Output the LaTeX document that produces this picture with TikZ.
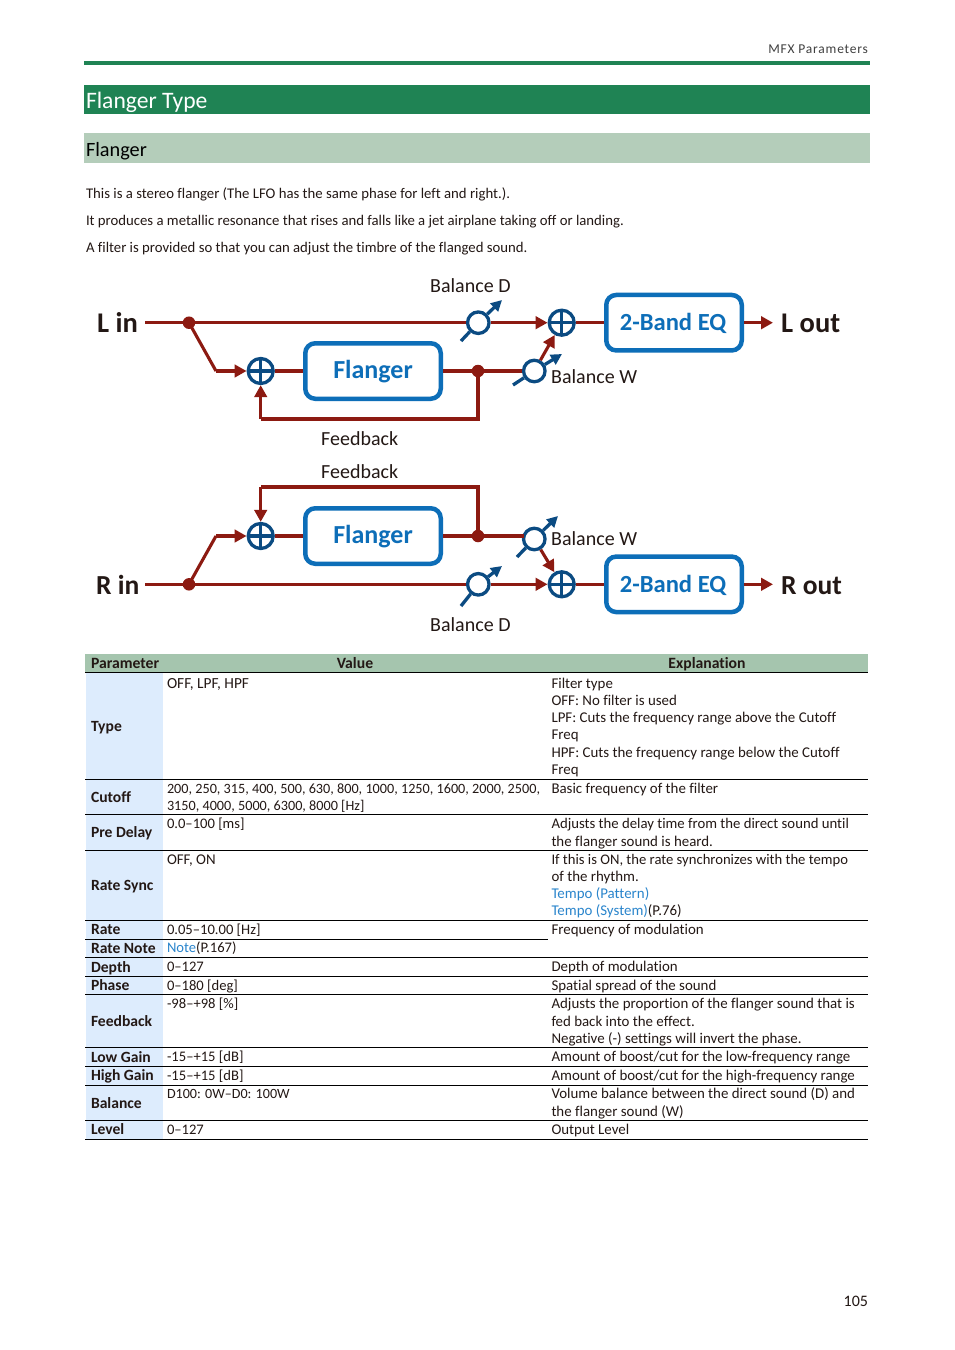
\documentclass[tikz,border=0pt]{standalone}
\usepackage{fontspec}
\setmainfont{Carlito}[Ligatures=CommonOff]
\usetikzlibrary{arrows.meta}
\definecolor{grn}{HTML}{1F8354}
\definecolor{lgrn}{HTML}{B4CDBA}
\definecolor{hdr}{HTML}{A5C5AE}
\definecolor{lblue}{HTML}{DDECFD}
\definecolor{red1}{HTML}{8C1A11}
\definecolor{blu1}{HTML}{0B4B82}
\definecolor{blu2}{HTML}{0D6EB8}
\definecolor{lnk}{HTML}{2A85CC}
\definecolor{ink}{HTML}{231815}
\newcommand{\fs}[1]{\fontsize{#1}{#1}\selectfont}
\tikzset{
  x=1pt,y=-1pt,
  txt/.style={anchor=base west,inner sep=0pt,outer sep=0pt,font=\fs{14.75},text=ink},
  txtr/.style={txt,anchor=base east},
  cell/.style={txt,font=\fs{14.9}},
  num/.style={txt,font=\fs{14.6}},
  pname/.style={txt,font=\fs{15.6}\bfseries},
  hd/.style={inner sep=0pt,anchor=base,font=\fs{15.7}\bfseries,text=ink},
  rule/.style={black,line width=1pt},
  wire/.style={red1,line width=3.1pt},
  arrw/.style={wire,-{Triangle[length=12pt,width=12.5pt]}},
  knobarr/.style={blu1,line width=3.3pt,-{Triangle[length=11pt,width=11pt]}},
  knobtail/.style={blu1,line width=3.3pt},
  blockbox/.style={draw=blu2,line width=4.5pt,fill=white,rounded corners=10pt,minimum width=135.5pt,minimum height=55.5pt,inner sep=0pt,text=blu2,font=\fs{26}\bfseries},
  sumnode/.style={circle,draw=blu1,line width=3.3pt,fill=white,minimum size=25pt,inner sep=0pt,
    path picture={\draw[blu1,line width=3.2pt] (path picture bounding box.north)--(path picture bounding box.south) (path picture bounding box.west)--(path picture bounding box.east);}},
  knob/.style={circle,draw=blu1,line width=3.3pt,fill=white,minimum size=21.5pt,inner sep=0pt},
  dotn/.style={circle,fill=red1,minimum size=12.5pt,inner sep=0pt},
  io/.style={inner sep=0pt,anchor=base west,font=\fs{28.5}\bfseries,text=ink},
  lab/.style={inner sep=0pt,anchor=base west,font=\fs{20},text=ink},
}
\begin{document}
\begin{tikzpicture}
\useasboundingbox (0,0) rectangle (954,1350);
\fill[white] (0,0) rectangle (954,1350);
% page header
\node[txtr,font=\fs{13.5},text=black!75] (mfx) at (868,53) {\addfontfeature{LetterSpace=6}MFX Parameters};
\fill[grn] (84,61) rectangle (870,65);
\fill[grn] (84,85) rectangle (870,114);
\fill[lgrn] (84,133) rectangle (870,163);
\node[txt,font=\fs{23.6},text=white] (h1) at (86,108) {Flanger Type};
\node[txt,font=\fs{20.3},text=black] (h2) at (86,156) {Flanger};
\node[txt] (p1) at (86,198) {This is a stereo flanger (The LFO has the same phase for left and right.).};
\node[txt] (p2) at (86,225) {It produces a metallic resonance that rises and falls like a jet airplane taking off or landing.};
\node[txt] (p3) at (86,252) {A filter is provided so that you can adjust the timbre of the flanged sound.};
% ---- L channel nodes
\node[blockbox] (lfl) at (373,371) {\raisebox{-7.5pt}[0pt][0pt]{Flanger}};
\node[blockbox] (leq) at (674,322.7) {\hspace{-2pt}\raisebox{-8pt}[0pt][0pt]{\fs{24.6}2-Band EQ}};
\node[sumnode] (ls1) at (260.7,371) {};
\node[sumnode] (ls2) at (561.7,322.7) {};
\node[knob] (lkd) at (478.3,322.7) {};
\node[knob] (lkw) at (534.3,371) {};
\node[dotn] (ld1) at (189,322.7) {};
\node[dotn] (ld2) at (478,371) {};
\coordinate (lin) at (145,322.7);
\coordinate (lout) at (773,322.7);
\coordinate (lbend) at (216,371);
\coordinate (lf1) at (478,419);
\coordinate (lf2) at (260.7,419);
\coordinate (ldt) at (461,341);
\coordinate (ldh) at (502,300);
\coordinate (lwt) at (513,385);
\coordinate (lwh) at (562,354);
\draw[wire] (lin) -- (ld1) -- (lkd);
\draw[arrw] (lkd) -- (ls2);
\draw[wire] (ls2) -- (leq);
\draw[arrw] (leq) -- (lout);
\draw[wire] (ld1.center) -- (lbend);
\draw[arrw] (lbend) -- (ls1);
\draw[wire] (ls1) -- (lfl);
\draw[wire] (lfl) -- (ld2) -- (lkw);
\draw[wire,line join=miter] (ld2.center) -- (lf1) -- (lf2);
\draw[arrw] (lf2) -- (ls1);
\draw[arrw] (lkw) -- (ls2);
\draw[knobtail] (ldt) -- (lkd);
\draw[knobarr] (lkd) -- (ldh);
\draw[knobtail] (lwt) -- (lkw);
\draw[knobarr] (lkw) -- (lwh);
% ---- R channel nodes
\node[blockbox] (rfl) at (373,536) {\raisebox{-7.5pt}[0pt][0pt]{Flanger}};
\node[blockbox] (req) at (674,584.3) {\hspace{-2pt}\raisebox{-8pt}[0pt][0pt]{\fs{24.6}2-Band EQ}};
\node[sumnode] (rs1) at (260.7,536) {};
\node[sumnode] (rs2) at (561.7,584.3) {};
\node[knob] (rkd) at (478.3,584.3) {};
\node[knob] (rkw) at (534.3,539) {};
\node[dotn] (rd1) at (189,584.3) {};
\node[dotn] (rd2) at (478,536) {};
\coordinate (rin) at (145,584.3);
\coordinate (rout) at (773,584.3);
\coordinate (rbend) at (216,536);
\coordinate (rf1) at (478,487);
\coordinate (rf2) at (260.7,487);
\coordinate (rdt) at (461,606);
\coordinate (rdh) at (502,566);
\coordinate (rwt) at (517,557);
\coordinate (rwh) at (558,516);
\coordinate (rwe) at (524,536);
\draw[wire] (rin) -- (rd1) -- (rkd);
\draw[arrw] (rkd) -- (rs2);
\draw[wire] (rs2) -- (req);
\draw[arrw] (req) -- (rout);
\draw[wire] (rd1.center) -- (rbend);
\draw[arrw] (rbend) -- (rs1);
\draw[wire] (rs1) -- (rfl);
\draw[wire] (rfl) -- (rd2) -- (rwe);
\draw[wire,line join=miter] (rd2.center) -- (rf1) -- (rf2);
\draw[arrw] (rf2) -- (rs1);
\draw[arrw] (rkw) -- (rs2);
\draw[knobtail] (rdt) -- (rkd);
\draw[knobarr] (rkd) -- (rdh);
\draw[knobtail] (rwt) -- (rkw);
\draw[knobarr] (rkw) -- (rwh);
% labels
\node[io] (tli) at (97,332) {L in};
\node[io] (tlo) at (781,332) {L out};
\node[io,font=\fs{27.5}\bfseries] (tri) at (96,594) {R in};
\node[io,font=\fs{27.5}\bfseries] (tro) at (781,594) {R out};
\node[lab] (tb1) at (430,292) {Balance D};
\node[lab] (tb2) at (551,383) {Balance W};
\node[lab] (tb3) at (321,445) {Feedback};
\node[lab] (tb4) at (321,478) {Feedback};
\node[lab] (tb5) at (551,545) {Balance W};
\node[lab] (tb6) at (430,631) {Balance D};
% ---- table
\fill[hdr] (85,654) rectangle (868,672);
\fill[lblue] (86,672) rectangle (163,1139);
\node[txt,font=\fs{15.7}\bfseries] (hp) at (91,668) {Parameter};
\node[hd] (hv) at (355,668) {Value};
\node[hd] (he) at (707,668) {Explanation};
\foreach \yy in {672.5,779.5,814,850.5,920.5,957.5,976,994.5,1047.5,1066.5,1085.5,1120.5,1139.5}
  \draw[rule] (85,\yy) -- (868,\yy);
\draw[rule] (85,939) -- (548,939);
\node[pname] (a1) at (91,731) {Type};
\node[pname] (a2) at (91,802) {Cutoff};
\node[pname] (a3) at (91,837) {Pre Delay};
\node[pname] (a4) at (91,890) {Rate Sync};
\node[pname] (a5) at (91,934) {Rate};
\node[pname] (a6) at (91,953) {Rate Note};
\node[pname] (a7) at (91,972) {Depth};
\node[pname] (a8) at (91,990) {Phase};
\node[pname] (a9) at (91,1026) {Feedback};
\node[pname] (a10) at (91,1062) {Low Gain};
\node[pname] (a11) at (91,1080) {High Gain};
\node[pname] (a12) at (91,1108) {Balance};
\node[pname] (a13) at (91,1134) {Level};
\node[cell,font=\fs{15.4}] (b1) at (167,688) {OFF, LPF, HPF};
\node[num,font=\fs{14.2}] (b2) at (167,793) {200, 250, 315, 400, 500, 630, 800, 1000, 1250, 1600, 2000, 2500,};
\node[num,font=\fs{14.2}] (b2b) at (167,810) {3150, 4000, 5000, 6300, 8000 [Hz]};
\node[num] (b3) at (167,828) {0.0–100 [ms]};
\node[cell] (b4) at (167,864) {OFF, ON};
\node[num] (b5) at (167,934) {0.05–10.00 [Hz]};
\node[num] (b6) at (167,952) {\textcolor{lnk}{Note}(P.167)};
\node[num] (b7) at (167,971) {0–127};
\node[num] (b8) at (167,990) {0–180 [deg]};
\node[num] (b9) at (167,1008) {-98–+98 [\%]};
\node[num] (b10) at (167,1061) {-15–+15 [dB]};
\node[num] (b11) at (167,1080) {-15–+15 [dB]};
\node[num,font=\fs{14.1}] (b12) at (167,1098) {D100: 0W–D0: 100W};
\node[num] (b13) at (167,1134) {0–127};
\node[cell] (c1) at (551.5,688) {Filter type};
\node[cell] (c1b) at (551.5,705) {OFF: No filter is used};
\node[cell] (c1c) at (551.5,722) {LPF: Cuts the frequency range above the Cutoff};
\node[cell] (c1d) at (551.5,739) {Freq};
\node[cell] (c1e) at (551.5,757) {HPF: Cuts the frequency range below the Cutoff};
\node[cell] (c1f) at (551.5,774) {Freq};
\node[cell] (c2) at (551.5,793) {Basic frequency of the filter};
\node[cell,font=\fs{14.75}] (c3) at (551.5,828) {Adjusts the delay time from the direct sound until};
\node[cell] (c3b) at (551.5,846) {the flanger sound is heard.};
\node[cell,font=\fs{14.65}] (c4) at (551.5,864) {If this is ON, the rate synchronizes with the tempo};
\node[cell] (c4b) at (551.5,881) {of the rhythm.};
\node[cell] (c4c) at (551.5,898) {\textcolor{lnk}{Tempo (Pattern)}};
\node[cell] (c4d) at (551.5,915) {\textcolor{lnk}{Tempo (System)}(P.76)};
\node[cell] (c5) at (551.5,934) {Frequency of modulation};
\node[cell] (c7) at (551.5,971) {Depth of modulation};
\node[cell] (c8) at (551.5,990) {Spatial spread of the sound};
\node[cell] (c9) at (551.5,1008) {Adjusts the proportion of the flanger sound that is};
\node[cell] (c9b) at (551.5,1026) {fed back into the effect.};
\node[cell] (c9c) at (551.5,1043) {Negative (-) settings will invert the phase.};
\node[cell] (c10) at (551.5,1061) {Amount of boost/cut for the low-frequency range};
\node[cell] (c11) at (551.5,1080) {Amount of boost/cut for the high-frequency range};
\node[cell] (c12) at (551.5,1098) {Volume balance between the direct sound (D) and};
\node[cell] (c12b) at (551.5,1116) {the flanger sound (W)};
\node[cell] (c13) at (551.5,1134) {Output Level};
\node[txtr,font=\fs{16}] (pg) at (868,1306) {105};
\end{tikzpicture}
\end{document}
